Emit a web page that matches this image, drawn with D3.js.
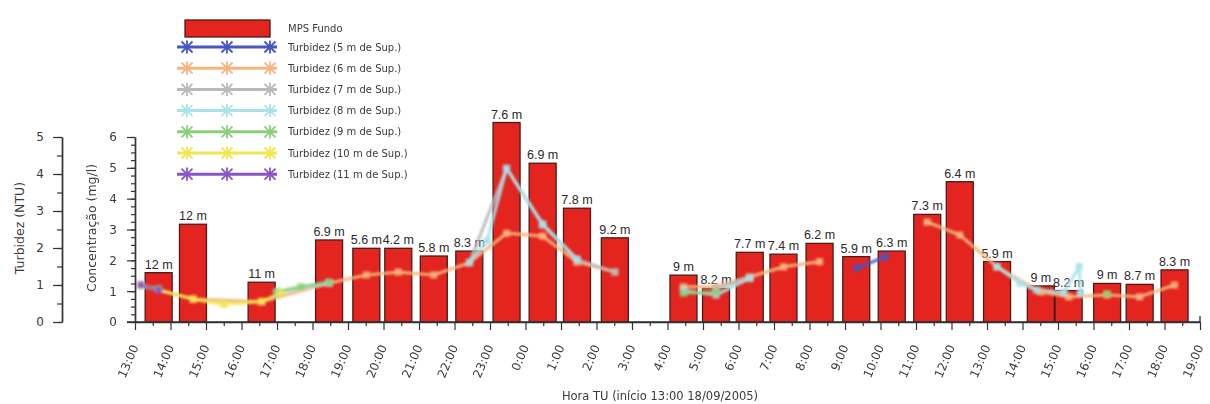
<!DOCTYPE html>
<html><head><meta charset="utf-8">
<script src="https://cdn.jsdelivr.net/npm/d3@7"></script>
<style>body{margin:0;background:#fff}svg{display:block}</style>
</head><body>
<svg id="c" width="1210" height="404"></svg>
<script>
// ---------- DATA ----------
const barTimes = ["18 13:40","18 14:38","18 16:34","18 18:28","18 19:31","18 20:25","18 21:25","18 22:25","18 23:28","19 00:29","19 01:27","19 02:31",
  "19 04:27","19 05:22","19 06:19","19 07:16","19 08:17","19 09:19","19 10:19","19 11:19","19 12:14","19 13:17","19 14:31","19 15:18","19 16:23","19 17:18","19 18:17"];
const barValues = [1.6,3.17,1.29,2.66,2.39,2.39,2.14,2.30,6.47,5.15,3.69,2.73,
  1.52,1.09,2.26,2.2,2.55,2.12,2.30,3.49,4.55,1.96,1.17,1.02,1.25,1.22,1.69];
const barLabels = ["12 m","12 m","11 m","6.9 m","5.6 m","4.2 m","5.8 m","8.3 m","7.6 m","6.9 m","7.8 m","9.2 m",
  "9 m","8.2 m","7.7 m","7.4 m","6.2 m","5.9 m","6.3 m","7.3 m","6.4 m","5.9 m","9 m","8.2 m","9 m","8.7 m","8.3 m"];
const xTickLabels = ["13:00","14:00","15:00","16:00","17:00","18:00","19:00","20:00","21:00","22:00","23:00","0:00","1:00","2:00","3:00",
  "4:00","5:00","6:00","7:00","8:00","9:00","10:00","11:00","12:00","13:00","14:00","15:00","16:00","17:00","18:00","19:00"];
const turbTicks = [0,1,2,3,4,5];
const concTicks = [0,1,2,3,4,5,6];
const barName = "MPS Fundo";
const seriesNames = ["Turbidez (5 m de Sup.)","Turbidez (6 m de Sup.)","Turbidez (7 m de Sup.)","Turbidez (8 m de Sup.)",
  "Turbidez (9 m de Sup.)","Turbidez (10 m de Sup.)","Turbidez (11 m de Sup.)"];
const turb5m = [["19 09:20",1.46],["19 10:08",1.76]];
const turb6m = [["18 13:10",1.0],["18 14:38",0.62],["18 16:34",0.55],["18 18:28",1.05],["18 19:31",1.27],["18 20:25",1.35],["18 21:25",1.27],
  ["18 22:25",1.6],["18 23:28",2.4],["19 00:29",2.32],["19 01:27",1.62],["19 02:31",1.35],["19 03:30",null],
  ["19 04:27",0.95],["19 05:22",0.95],["19 06:19",1.22],["19 07:16",1.49],["19 08:17",1.63],["19 09:30",null],
  ["19 11:19",2.7],["19 12:14",2.35],["19 13:17",1.49],["19 14:31",0.81],["19 15:18",0.68],["19 16:23",0.73],["19 17:18",0.68],["19 18:17",1.0]];
const turb7m = [["18 22:25",1.6],["18 23:28",4.15],["19 00:29",2.62],["19 01:27",1.68],["19 02:31",1.35],["19 03:30",null],
  ["19 05:22",0.9],["19 06:19",1.2]];
const turb8m = [["18 17:00",0.8],["18 18:28",1.05],["18 19:30",null],
  ["18 22:25",1.6],["18 22:55",2.2],["18 23:28",4.15],["19 00:29",2.65],["19 01:27",1.7],["19 02:00",null],
  ["19 04:27",0.85],["19 05:22",0.73],["19 06:19",1.18],["19 07:00",null],
  ["19 13:17",1.49],["19 13:56",1.05],["19 14:24",0.86],["19 15:10",0.8],["19 15:36",1.5],["19 15:38",0.78]];
const turb9m = [["18 13:10",1.0],["18 13:40",0.9],["18 14:00",null],["18 17:00",0.82],["18 17:40",0.95],["18 18:28",1.08],["18 19:00",null],
  ["19 04:27",0.78],["19 05:22",0.8],["19 06:00",null],["19 16:23",0.76]];
const turb10m = [["18 13:10",0.98],["18 14:38",0.62],["18 15:30",0.48],["18 16:34",0.55],["18 17:05",0.78]];
const turb11m = [["18 13:10",1.0],["18 13:40",0.86]];
const seriesData = [turb5m,turb6m,turb7m,turb8m,turb9m,turb10m,turb11m];
const seriesColors = ["#4656c2","#f5b57c","#b9b9b9","#a9e2ea","#8ccf7a","#f1e64f","#8a53c6"];

// ---------- CHART ----------
const svg = d3.select("#c");
const parse = d3.timeParse("%d %H:%M");
const x = d3.scaleTime().domain([parse("18 13:00"), parse("19 19:00")]).range([135, 1200]);
const yT = d3.scaleLinear().domain([0,5]).range([322,137]);
const yC = d3.scaleLinear().domain([0,6]).range([322,137]);
const font = "'DejaVu Sans', Verdana, sans-serif";
const txt = "#3a3a3a";
const intFmt = d3.format("d");

// bars
const barW = 27;
svg.append("g").selectAll("rect").data(barValues).join("rect")
  .attr("x", (d,i) => x(parse(barTimes[i])) - barW/2)
  .attr("y", d => yC(d))
  .attr("width", barW)
  .attr("height", d => yC(0) - yC(d))
  .attr("fill", "#e3241f").attr("stroke", "#4a1c18").attr("stroke-width", 1.3);

svg.append("g").selectAll("text").data(barValues).join("text")
  .attr("x", (d,i) => x(parse(barTimes[i])))
  .attr("y", d => yC(d) - 4)
  .attr("text-anchor","middle")
  .attr("font-family","'Liberation Sans Narrow','Arial Narrow',Arial,sans-serif")
  .attr("font-size", 12.5).attr("fill", "#2a2a2a")
  .text((d,i) => barLabels[i]);

// lines
const defs = svg.append("defs");
defs.append("filter").attr("id","soft").append("feGaussianBlur").attr("stdDeviation",0.8);
const line = d3.line().defined(d => d[1] != null).x(d => x(parse(d[0]))).y(d => yT(d[1]));
function star(s){ return `M${-s},${-s}L${s},${s}M${-s},${s}L${s},${-s}M0,${-s*1.2}L0,${s*1.2}M${-s*1.2},0L${s*1.2},0`; }
const lg = svg.append("g").attr("filter","url(#soft)");
seriesData.forEach((data, k) => {
  lg.append("path").datum(data).attr("d", line).attr("fill","none")
    .attr("stroke", seriesColors[k]).attr("stroke-width", 3.2).attr("stroke-linejoin","round").attr("opacity",0.9);
});
seriesData.forEach((data, k) => {
  lg.append("g").selectAll("path").data(data.filter(d => d[1] != null)).join("path")
    .attr("transform", d => `translate(${x(parse(d[0]))},${yT(d[1])})`)
    .attr("d", star(3.5)).attr("fill","none").attr("stroke", seriesColors[k]).attr("stroke-width",1.6);
});

// axes
function styleAxis(g){
  g.selectAll(".domain").attr("stroke","#333").attr("stroke-width",1.4);
  g.selectAll(".tick line").attr("stroke","#333").attr("stroke-width",1.2);
  g.selectAll("text").attr("font-family",font).attr("font-size",12).attr("fill",txt);
}
// turbidity axis
svg.append("g").attr("transform","translate(62,0)")
  .call(d3.axisLeft(yT).tickValues(d3.range(0,5.01,0.5)).tickSize(5).tickSizeOuter(0).tickFormat(""))
  .call(styleAxis);
svg.append("g").attr("transform","translate(62,0)")
  .call(d3.axisLeft(yT).tickValues(turbTicks).tickSize(9).tickSizeOuter(0).tickPadding(9).tickFormat(intFmt))
  .call(styleAxis);
// concentration axis
svg.append("g").attr("transform","translate(135,0)")
  .call(d3.axisLeft(yC).tickValues(d3.range(0,6.01,0.25)).tickSize(4).tickSizeOuter(0).tickFormat(""))
  .call(styleAxis);
svg.append("g").attr("transform","translate(135,0)")
  .call(d3.axisLeft(yC).tickValues(concTicks).tickSize(8).tickSizeOuter(0).tickPadding(10).tickFormat(intFmt))
  .call(styleAxis);
// x axis
const hourTicks = d3.timeHour.range(parse("18 13:00"), d3.timeMinute.offset(parse("19 19:00"),1));
const halfTicks = d3.timeMinute.every(30).range(parse("18 13:00"), parse("19 19:00")).filter(d => d.getMinutes()===30);
svg.append("g").attr("transform","translate(0,322)")
  .call(d3.axisBottom(x).tickValues(halfTicks).tickSize(4).tickSizeOuter(0).tickFormat(""))
  .call(styleAxis);
const xa = svg.append("g").attr("transform","translate(0,322)")
  .call(d3.axisBottom(x).tickValues(hourTicks).tickSize(8).tickSizeOuter(0).tickFormat((d,i) => xTickLabels[i]))
  .call(styleAxis);
xa.select(".domain").attr("d","M127,0H1200V-6");
xa.selectAll(".tick text")
  .attr("text-anchor","end").attr("font-size",12)
  .attr("x",0).attr("y",0).attr("dy","0.2em")
  .attr("transform","translate(1,24) rotate(-67)");

// axis titles
svg.append("text").attr("transform","translate(24,228) rotate(-90)").attr("text-anchor","middle")
  .attr("font-family",font).attr("font-size",12.5).attr("fill",txt).text("Turbidez (NTU)");
svg.append("text").attr("transform","translate(96,228) rotate(-90)").attr("text-anchor","middle")
  .attr("font-family",font).attr("font-size",12.5).attr("fill",txt).text("Concentração (mg/l)");
svg.append("text").attr("x",660).attr("y",400).attr("text-anchor","middle")
  .attr("font-family",font).attr("font-size",11.5).attr("fill",txt).text("Hora TU (início 13:00 18/09/2005)");

// legend
const leg = svg.append("g");
leg.append("rect").attr("x",185).attr("y",20).attr("width",85).attr("height",17)
  .attr("fill","#e3241f").attr("stroke","#4a1c18").attr("stroke-width",1.3);
leg.append("text").attr("x",288).attr("y",32).attr("font-family",font).attr("font-size",10).attr("fill",txt).text(barName);
const rows = leg.selectAll("g.row").data(seriesNames).join("g").attr("class","row")
  .attr("transform",(d,i) => `translate(0,${47 + i*21.2})`);
rows.append("line").attr("x1",177).attr("x2",277).attr("stroke",(d,i)=>seriesColors[i]).attr("stroke-width",3);
rows.each(function(d,i){
  d3.select(this).selectAll("path").data([187,227,270]).join("path")
    .attr("transform", p => `translate(${p},0)`).attr("d", star(5.5))
    .attr("fill","none").attr("stroke", seriesColors[i]).attr("stroke-width",1.8);
});
rows.append("text").attr("x",288).attr("y",3.5).attr("font-family",font).attr("font-size",10).attr("fill",txt).text(d => d);
</script>
</body></html>
